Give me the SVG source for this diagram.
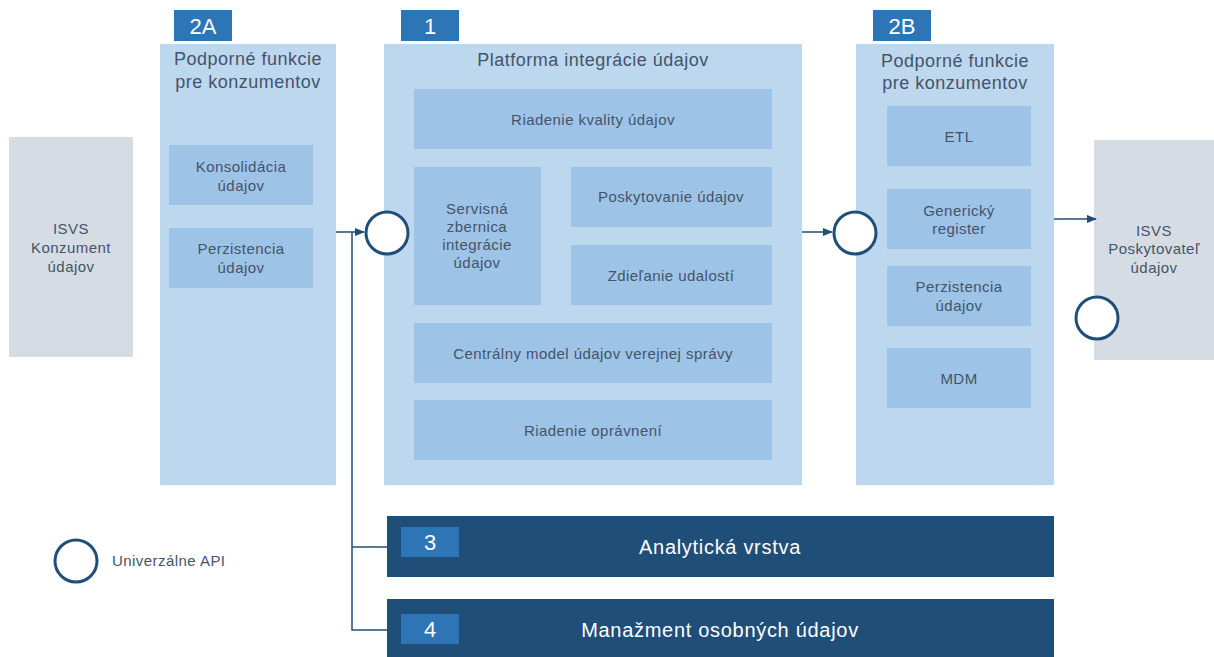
<svg xmlns="http://www.w3.org/2000/svg" width="1214" height="657" viewBox="0 0 1214 657">
<style>
.panel{fill:#BDD7EE}
.inner{fill:#9DC3E6}
.gray{fill:#D6DCE4}
.tag{fill:#2E75B6}
.bar{fill:#1F4E79}
.t{font-family:"Liberation Sans",Arial,sans-serif;fill:#44546A;text-anchor:middle;font-size:15px;letter-spacing:0.45px}
.h{font-family:"Liberation Sans",Arial,sans-serif;fill:#44546A;text-anchor:middle;font-size:18px;letter-spacing:0.5px}
.tg{font-family:"Liberation Sans",Arial,sans-serif;fill:#FFFFFF;text-anchor:middle;font-size:22px}
.bt{font-family:"Liberation Sans",Arial,sans-serif;fill:#FFFFFF;text-anchor:middle;font-size:20px;letter-spacing:0.7px}
.api{fill:#FFFFFF;stroke:#1F4E79;stroke-width:3}
.ln{fill:none;stroke:#1F4E79;stroke-width:1.5}
</style>
<defs>
<marker id="ar" markerWidth="10" markerHeight="8" refX="9" refY="4" orient="auto" markerUnits="userSpaceOnUse">
<path d="M0,0 L10,4 L0,8 Z" fill="#1F4E79"/>
</marker>
</defs>

<g id="isvs-konzument">
<rect class="gray" x="9" y="137" width="124" height="220"/>
<text class="t" x="71" y="234">ISVS</text>
<text class="t" x="71" y="253">Konzument</text>
<text class="t" x="71" y="272">údajov</text>
</g>

<g id="panel-2a">
<rect class="panel" x="160" y="44" width="176" height="441"/>
<rect class="tag" x="174" y="10" width="58" height="31"/>
<text class="tg" x="203" y="34">2A</text>
<text class="h" x="248" y="65">Podporné funkcie</text>
<text class="h" x="248" y="88">pre konzumentov</text>
<g id="konsolidacia">
<rect class="inner" x="169" y="145" width="144" height="60"/>
<text class="t" x="241" y="172">Konsolidácia</text>
<text class="t" x="241" y="191">údajov</text>
</g>
<g id="perzistencia-2a">
<rect class="inner" x="169" y="228" width="144" height="60"/>
<text class="t" x="241" y="254">Perzistencia</text>
<text class="t" x="241" y="273">údajov</text>
</g>
</g>

<g id="panel-1">
<rect class="panel" x="384" y="44" width="418" height="441"/>
<rect class="tag" x="401" y="10" width="58" height="31"/>
<text class="tg" x="430" y="34">1</text>
<text class="h" x="593" y="66">Platforma integrácie údajov</text>
<g id="kvalita">
<rect class="inner" x="414" y="89" width="358" height="60"/>
<text class="t" x="593" y="125">Riadenie kvality údajov</text>
</g>
<g id="zbernica">
<rect class="inner" x="414" y="167" width="127" height="138"/>
<text class="t" x="477" y="214">Servisná</text>
<text class="t" x="477" y="232">zbernica</text>
<text class="t" x="477" y="250">integrácie</text>
<text class="t" x="477" y="268">údajov</text>
</g>
<g id="poskytovanie">
<rect class="inner" x="571" y="167" width="201" height="60"/>
<text class="t" x="671" y="202">Poskytovanie údajov</text>
</g>
<g id="zdielanie">
<rect class="inner" x="571" y="245" width="201" height="60"/>
<text class="t" x="671" y="281">Zdieľanie udalostí</text>
</g>
<g id="model">
<rect class="inner" x="414" y="323" width="358" height="60"/>
<text class="t" x="593" y="359">Centrálny model údajov verejnej správy</text>
</g>
<g id="opravnenia">
<rect class="inner" x="414" y="400" width="358" height="60"/>
<text class="t" x="593" y="436">Riadenie oprávnení</text>
</g>
</g>

<g id="panel-2b">
<rect class="panel" x="856" y="44" width="198" height="441"/>
<rect class="tag" x="873" y="10" width="58" height="31"/>
<text class="tg" x="902" y="34">2B</text>
<text class="h" x="955" y="67">Podporné funkcie</text>
<text class="h" x="955" y="89">pre konzumentov</text>
<g id="etl">
<rect class="inner" x="887" y="106" width="144" height="60"/>
<text class="t" x="959" y="142">ETL</text>
</g>
<g id="genericky">
<rect class="inner" x="887" y="189" width="144" height="60"/>
<text class="t" x="959" y="216">Generický</text>
<text class="t" x="959" y="234">register</text>
</g>
<g id="perzistencia-2b">
<rect class="inner" x="887" y="266" width="144" height="60"/>
<text class="t" x="959" y="292">Perzistencia</text>
<text class="t" x="959" y="311">údajov</text>
</g>
<g id="mdm">
<rect class="inner" x="887" y="348" width="144" height="60"/>
<text class="t" x="959" y="384">MDM</text>
</g>
</g>

<g id="isvs-poskytovatel">
<rect class="gray" x="1094" y="140" width="120" height="220"/>
<text class="t" x="1154" y="236">ISVS</text>
<text class="t" x="1154" y="254">Poskytovateľ</text>
<text class="t" x="1154" y="273">údajov</text>
</g>

<g id="bar-3">
<rect class="bar" x="387" y="516" width="667" height="61"/>
<rect class="tag" x="401" y="527" width="58" height="30"/>
<text class="tg" x="430" y="550">3</text>
<text class="bt" x="720" y="554">Analytická vrstva</text>
</g>

<g id="bar-4">
<rect class="bar" x="387" y="599" width="667" height="58"/>
<rect class="tag" x="401" y="614" width="58" height="30"/>
<text class="tg" x="430" y="637">4</text>
<text class="bt" x="720" y="637">Manažment osobných údajov</text>
</g>

<g id="connectors">
<line class="ln" x1="336" y1="232" x2="364" y2="232" marker-end="url(#ar)"/>
<polyline class="ln" points="352,232 352,630 387,630"/>
<line class="ln" x1="352" y1="547" x2="387" y2="547"/>
<line class="ln" x1="802" y1="232" x2="832" y2="232" marker-end="url(#ar)"/>
<line class="ln" x1="1054" y1="219" x2="1096" y2="219" marker-end="url(#ar)"/>
</g>

<g id="api-1"><circle class="api" cx="387" cy="233" r="21"/></g>
<g id="api-2"><circle class="api" cx="855" cy="233" r="21"/></g>
<g id="api-3"><circle class="api" cx="1097" cy="318" r="21"/></g>

<g id="legend">
<circle class="api" cx="76" cy="561" r="21"/>
<text class="t" x="112" y="566" style="text-anchor:start">Univerzálne API</text>
</g>
</svg>
